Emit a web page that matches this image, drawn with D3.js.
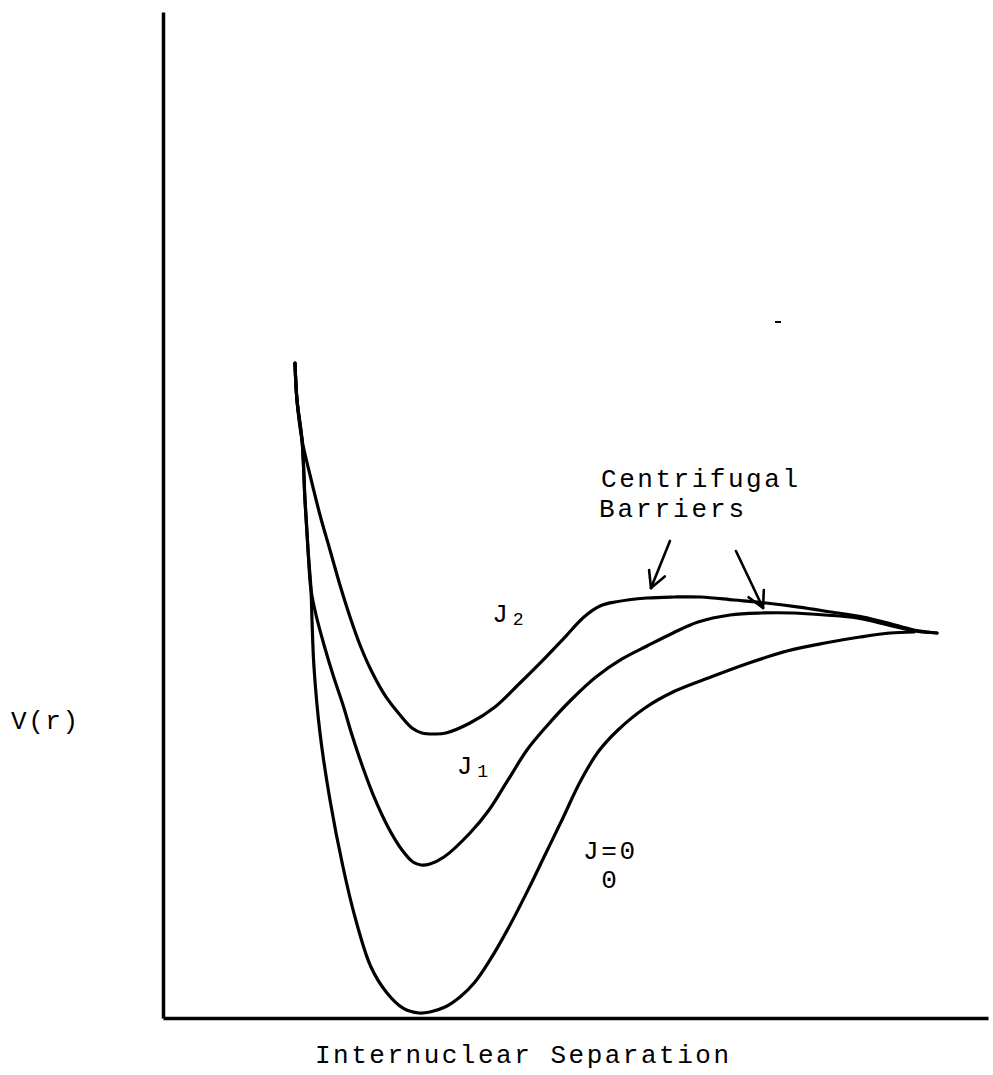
<!DOCTYPE html>
<html>
<head>
<meta charset="utf-8">
<script src="https://cdn.jsdelivr.net/npm/d3@7"></script>
<style>
  html, body { margin: 0; padding: 0; background: #fff; }
  svg { display: block; }
  text { font-family: "Liberation Mono", "DejaVu Sans Mono", monospace; fill: #000; }
</style>
</head>
<body>
<svg id="chart" width="993" height="1075"></svg>
<script>
// ---- data (arbitrary units: r = internuclear separation, V = potential) ----
const j0R = [1.600, 1.624, 1.685, 1.721, 1.758, 1.794, 1.806, 1.830, 1.903, 2.024, 2.182, 2.327, 2.521, 2.715, 2.909, 3.103, 3.236, 3.418, 3.600, 3.782, 3.964, 4.206, 4.424, 4.630, 4.836, 5.055, 5.273, 5.515, 5.842, 6.206, 6.642, 7.103, 7.564, 8.024, 8.448, 8.812, 9.103];
const j0V = [6.511, 6.143, 5.746, 5.149, 4.652, 4.254, 3.956, 3.489, 2.833, 2.167, 1.501, 1.004, 0.507, 0.249, 0.099, 0.050, 0.060, 0.109, 0.209, 0.358, 0.577, 0.924, 1.272, 1.620, 1.968, 2.346, 2.644, 2.863, 3.082, 3.250, 3.390, 3.529, 3.648, 3.728, 3.787, 3.827, 3.837];

const j1R = [1.600, 1.624, 1.685, 1.721, 1.758, 1.794, 1.855, 1.952, 2.061, 2.182, 2.291, 2.412, 2.558, 2.727, 2.897, 3.030, 3.127, 3.236, 3.406, 3.721, 3.952, 4.182, 4.412, 4.642, 4.945, 5.248, 5.564, 5.867, 6.182, 6.485, 6.873, 7.248, 7.636, 8.024, 8.412, 8.788, 9.103, 9.382];
const j1V = [6.511, 6.143, 5.746, 5.149, 4.652, 4.254, 4.006, 3.708, 3.410, 3.111, 2.813, 2.515, 2.197, 1.899, 1.670, 1.551, 1.521, 1.531, 1.600, 1.839, 2.068, 2.366, 2.664, 2.893, 3.161, 3.390, 3.569, 3.698, 3.827, 3.936, 4.006, 4.026, 4.026, 4.006, 3.976, 3.907, 3.847, 3.827];

const j2R = [1.600, 1.624, 1.685, 1.782, 1.903, 2.024, 2.145, 2.267, 2.388, 2.533, 2.703, 2.873, 3.018, 3.139, 3.297, 3.430, 3.721, 4.024, 4.327, 4.642, 4.873, 5.103, 5.297, 5.479, 5.867, 6.194, 6.521, 6.921, 7.309, 7.709, 8.097, 8.485, 8.788, 9.103, 9.382];
const j2V = [6.511, 6.143, 5.746, 5.398, 5.000, 4.652, 4.304, 3.986, 3.708, 3.439, 3.191, 3.012, 2.883, 2.833, 2.823, 2.833, 2.932, 3.091, 3.330, 3.588, 3.787, 3.986, 4.095, 4.135, 4.175, 4.185, 4.185, 4.155, 4.125, 4.085, 4.036, 3.986, 3.926, 3.857, 3.827];

// annotation arrows: [r, V]
const arrowFrom = [[6.145, 4.742], [6.945, 4.642]];
const arrowTo   = [[5.915, 4.274], [7.273, 4.076]];

// labels
const curveLabels = [
  { main: "J", sub: "2", r: 3.99, v: 3.94 },
  { main: "J", sub: "1", r: 3.56, v: 2.43 }
];
const j0Label = ["J=0", "0"];
const barrierLabel = ["Centrifugal", "Barriers"];
const xTitle = "Internuclear Separation";
const yTitle = "V(r)";

// ---- drawing ----
const svg = d3.select("#chart");
const x = d3.scaleLinear().domain([0, 10]).range([163, 988]);
const y = d3.scaleLinear().domain([0, 10]).range([1018, 12]);

// axes (no ticks)
const gx = svg.append("g").attr("transform", `translate(0,${y(0)})`)
  .call(d3.axisBottom(x).tickValues([]).tickSizeOuter(0));
const gy = svg.append("g").attr("transform", `translate(${x(0)},0)`)
  .call(d3.axisLeft(y).tickValues([]).tickSizeOuter(0));
[gx, gy].forEach(g => g.select(".domain").attr("stroke", "#000").attr("stroke-width", 3.5));

const line = d3.line()
  .x(d => x(d[0])).y(d => y(d[1]))
  .curve(d3.curveCatmullRom.alpha(0.5));

const series = [
  d3.zip(j0R, j0V),
  d3.zip(j1R, j1V),
  d3.zip(j2R, j2V)
];
svg.append("g").selectAll("path").data(series).join("path")
  .attr("d", line)
  .attr("fill", "none")
  .attr("stroke", "#000")
  .attr("stroke-width", 3.2)
  .attr("stroke-linejoin", "round")
  .attr("stroke-linecap", "round");

// arrows
const ag = svg.append("g").attr("stroke", "#000").attr("stroke-width", 2.6)
  .attr("fill", "none").attr("stroke-linecap", "round");
arrowFrom.forEach((f, i) => {
  const t = arrowTo[i];
  const x1 = x(f[0]), y1 = y(f[1]), x2 = x(t[0]), y2 = y(t[1]);
  ag.append("line").attr("x1", x1).attr("y1", y1).attr("x2", x2).attr("y2", y2);
  const dx = x1 - x2, dy = y1 - y2, L = Math.hypot(dx, dy);
  const ux = dx / L, uy = dy / L, len = 18, a = 28 * Math.PI / 180;
  [a, -a].forEach(th => {
    const bx = ux * Math.cos(th) - uy * Math.sin(th);
    const by = ux * Math.sin(th) + uy * Math.cos(th);
    ag.append("line").attr("x1", x2).attr("y1", y2)
      .attr("x2", x2 + bx * len).attr("y2", y2 + by * len);
  });
});

// texts
const fs = 26;
function label(t, px, py, len, anchor) {
  const el = svg.append("text").attr("x", px).attr("y", py).attr("font-size", fs)
    .attr("text-anchor", anchor || "start").text(t);
  if (len) el.attr("textLength", len).attr("lengthAdjust", "spacing");
  return el;
}
label(yTitle, 11, 729, 67);
label(xTitle, 522, 1063, 414, "middle");
label(barrierLabel[0], 601, 487, 197);
label(barrierLabel[1], 599, 517, 145);
label(j0Label[0], 583, 859, 52);
label(j0Label[1], 609, 888, null, "middle");

curveLabels.forEach(d => {
  const t = svg.append("text").attr("x", x(d.r)).attr("y", y(d.v)).attr("font-size", fs);
  t.append("tspan").text(d.main);
  t.append("tspan").attr("dx", 5).attr("dy", 3).attr("font-size", 18).text(d.sub);
});

// small speck in the original scan
svg.append("line").attr("x1", 775).attr("x2", 781).attr("y1", 322).attr("y2", 322)
  .attr("stroke", "#000").attr("stroke-width", 2);
</script>
</body>
</html>
